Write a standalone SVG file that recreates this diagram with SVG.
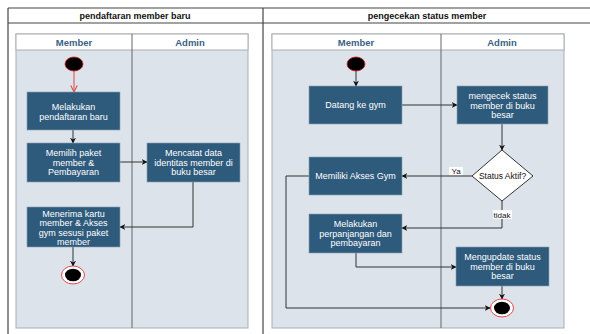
<svg xmlns="http://www.w3.org/2000/svg" width="590" height="334" viewBox="0 0 590 334">
  <style>
    .frame { fill: none; stroke: #444; stroke-width: 1.2; }
    .pool { fill: #dde3ea; stroke: #a8adb3; stroke-width: 1; }
    .head { fill: #ffffff; stroke: #a8adb3; stroke-width: 1; }
    .lane { stroke: #666; stroke-width: 1; }
    .title { font-family: "Liberation Sans", Arial, sans-serif; font-size: 9px; font-weight: bold; fill: #111; text-anchor: middle; }
    .lanet { font-family: "Liberation Sans", Arial, sans-serif; font-size: 9.5px; font-weight: bold; fill: #3a6287; text-anchor: middle; }
    .box { fill: #2e5a7c; stroke: #8aa0b4; stroke-width: 0.6; }
    .bt { font-family: "Liberation Sans", Arial, sans-serif; font-size: 9px; fill: #ffffff; text-anchor: middle; }
    .edge { fill: none; stroke: #333; stroke-width: 1; }
    .lbl { font-family: "Liberation Sans", Arial, sans-serif; font-size: 8px; fill: #111; text-anchor: middle; }
    .dia { fill: #ffffff; stroke: #333; stroke-width: 1; }
    .dt { font-family: "Liberation Sans", Arial, sans-serif; font-size: 8.5px; fill: #111; text-anchor: middle; }
  </style>
  <defs>
    <marker id="arr" viewBox="0 0 10 10" refX="9" refY="5" markerWidth="6" markerHeight="6" orient="auto" markerUnits="userSpaceOnUse">
      <path d="M0,0 L10,5 L0,10 L3,5 z" fill="#111"/>
    </marker>
    <marker id="open" viewBox="0 0 10 10" refX="9" refY="5" markerWidth="8" markerHeight="8" orient="auto" markerUnits="userSpaceOnUse">
      <path d="M1,1 L9,5 L1,9" fill="none" stroke="#e04848" stroke-width="1.3"/>
    </marker>
  </defs>

  <rect width="590" height="334" fill="#ffffff"/>

  <!-- outer frame with two titled partitions -->
  <g id="frame">
    <line class="frame" x1="8" y1="8" x2="590" y2="8"/>
    <line class="frame" x1="8" y1="23" x2="590" y2="23"/>
    <line class="frame" x1="8" y1="8" x2="8" y2="334"/>
    <line class="frame" x1="263" y1="8" x2="263" y2="334"/>
    <text class="title" x="135" y="18.5">pendaftaran member baru</text>
    <text class="title" x="427" y="18.5">pengecekan status member</text>
  </g>

  <!-- left swimlane pool -->
  <g id="pool-left">
    <rect class="pool" x="16" y="34" width="232" height="294"/>
    <rect class="head" x="16" y="34" width="232" height="16"/>
    <line class="lane" x1="132" y1="34" x2="132" y2="328"/>
    <text class="lanet" x="74" y="45.5">Member</text>
    <text class="lanet" x="190" y="45.5">Admin</text>
  </g>

  <!-- right swimlane pool -->
  <g id="pool-right">
    <rect class="pool" x="272" y="34" width="292" height="294"/>
    <rect class="head" x="272" y="34" width="292" height="16"/>
    <line class="lane" x1="441" y1="34" x2="441" y2="328"/>
    <text class="lanet" x="356" y="45.5">Member</text>
    <text class="lanet" x="502" y="45.5">Admin</text>
  </g>

  <!-- connectors -->
  <g id="connectors">
    <line x1="74" y1="71" x2="74" y2="92" stroke="#e04848" stroke-width="1" marker-end="url(#open)"/>
    <line class="edge" x1="73" y1="130" x2="73" y2="143" marker-end="url(#arr)"/>
    <line class="edge" x1="120" y1="162" x2="147" y2="162" marker-end="url(#arr)"/>
    <polyline class="edge" points="193,182 193,227 120,227" marker-end="url(#arr)"/>
    <line class="edge" x1="73" y1="247" x2="73" y2="266" marker-end="url(#arr)"/>

    <line class="edge" x1="356" y1="71" x2="356" y2="86" marker-end="url(#arr)"/>
    <line class="edge" x1="402" y1="105" x2="457" y2="105" marker-end="url(#arr)"/>
    <line class="edge" x1="502" y1="124" x2="502" y2="150" marker-end="url(#arr)"/>
    <line class="edge" x1="472" y1="176" x2="402" y2="176" marker-end="url(#arr)"/>
    <polyline class="edge" points="502,201 502,228 402,228" marker-end="url(#arr)"/>
    <polyline class="edge" points="356,253 356,267 456,267" marker-end="url(#arr)"/>
    <line class="edge" x1="502" y1="286" x2="502" y2="299" marker-end="url(#arr)"/>
    <polyline class="edge" points="309,176 286,176 286,308 490,308" marker-end="url(#arr)"/>
    <rect x="449" y="167" width="14" height="8" fill="#ffffff"/>
    <text class="lbl" x="456" y="174">Ya</text>
    <rect x="493" y="210" width="19" height="9" fill="#ffffff"/>
    <text class="lbl" x="502" y="217.5">tidak</text>
  </g>

  <!-- left partition nodes -->
  <g id="start-left">
    <ellipse cx="74" cy="64" rx="9" ry="7" fill="#000" stroke="#d02020" stroke-width="0.8"/>
  </g>
  <g id="daftar">
    <rect class="box" x="27" y="92" width="93" height="38"/>
    <text class="bt" x="73.5" y="110">Melakukan</text>
    <text class="bt" x="73.5" y="120">pendaftaran baru</text>
  </g>
  <g id="pilih-paket">
    <rect class="box" x="27" y="143" width="93" height="39"/>
    <text class="bt" x="73.5" y="156">Memilih paket</text>
    <text class="bt" x="73.5" y="165.5">member &amp;</text>
    <text class="bt" x="73.5" y="175">Pembayaran</text>
  </g>
  <g id="catat-data">
    <rect class="box" x="147" y="143" width="93" height="39"/>
    <text class="bt" x="193.5" y="156">Mencatat data</text>
    <text class="bt" x="193.5" y="165.5">identitas member di</text>
    <text class="bt" x="193.5" y="175">buku besar</text>
  </g>
  <g id="terima-kartu">
    <rect class="box" x="27" y="207" width="93" height="40"/>
    <text class="bt" x="73.5" y="217">Menerima kartu</text>
    <text class="bt" x="73.5" y="226.3">member &amp; Akses</text>
    <text class="bt" x="73.5" y="235.6">gym sesusi paket</text>
    <text class="bt" x="73.5" y="245">member</text>
  </g>
  <g id="end-left">
    <ellipse cx="73" cy="275" rx="11.5" ry="9" fill="#fff" stroke="#e04848" stroke-width="1"/>
    <ellipse cx="73" cy="275" rx="8" ry="6.3" fill="#000"/>
  </g>

  <!-- right partition nodes -->
  <g id="start-right">
    <ellipse cx="356" cy="64" rx="9" ry="7" fill="#000" stroke="#d02020" stroke-width="0.8"/>
  </g>
  <g id="datang">
    <rect class="box" x="309" y="86" width="93" height="38"/>
    <text class="bt" x="355.5" y="108">Datang ke gym</text>
  </g>
  <g id="cek-status">
    <rect class="box" x="457" y="86" width="91" height="38"/>
    <text class="bt" x="502.5" y="99">mengecek status</text>
    <text class="bt" x="502.5" y="108.5">member di buku</text>
    <text class="bt" x="502.5" y="118">besar</text>
  </g>
  <g id="status-aktif">
    <polygon class="dia" points="502,150 533,176 502,201 472,176"/>
    <text class="dt" x="502.5" y="179">Status Aktif?</text>
  </g>
  <g id="akses-gym">
    <rect class="box" x="309" y="157" width="93" height="38"/>
    <text class="bt" x="355.5" y="179">Memiliki Akses Gym</text>
  </g>
  <g id="perpanjangan">
    <rect class="box" x="309" y="214" width="93" height="39"/>
    <text class="bt" x="355.5" y="227">Melakukan</text>
    <text class="bt" x="355.5" y="236.5">perpanjangan dan</text>
    <text class="bt" x="355.5" y="246">pembayaran</text>
  </g>
  <g id="update-status">
    <rect class="box" x="456" y="247" width="93" height="39"/>
    <text class="bt" x="502.5" y="260">Mengupdate status</text>
    <text class="bt" x="502.5" y="269.5">member di buku</text>
    <text class="bt" x="502.5" y="279">besar</text>
  </g>
  <g id="end-right">
    <ellipse cx="502" cy="308" rx="11.5" ry="9" fill="#fff" stroke="#e04848" stroke-width="1"/>
    <ellipse cx="502" cy="308" rx="8" ry="6.3" fill="#000"/>
  </g>
</svg>
